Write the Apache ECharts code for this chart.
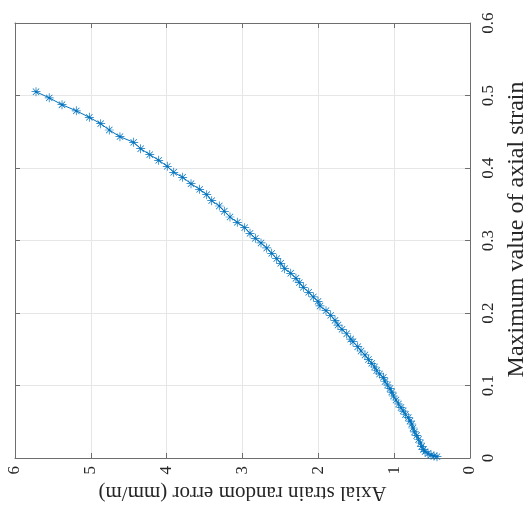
<!DOCTYPE html>
<html>
<head>
<meta charset="utf-8">
<script src="https://cdn.jsdelivr.net/npm/echarts@6/dist/echarts.min.js"></script>
<style>html,body{margin:0;padding:0;background:#fff;}#c{width:526px;height:507px;}</style>
</head>
<body>
<div id="c"></div>
<script>
// Axial strain random error (mm/m)
var randomError = [5.723,5.549,5.380,5.192,5.020,4.870,4.757,4.616,4.435,4.343,4.223,4.105,3.992,3.907,3.789,3.679,3.565,3.472,3.406,3.306,3.240,3.165,3.069,2.971,2.901,2.831,2.756,2.681,2.615,2.549,2.496,2.444,2.364,2.295,2.251,2.198,2.127,2.066,2.004,1.978,1.899,1.837,1.780,1.741,1.688,1.626,1.573,1.543,1.481,1.437,1.385,1.339,1.296,1.259,1.230,1.193,1.143,1.121,1.088,1.055,1.033,1.009,0.976,0.943,0.910,0.880,0.851,0.814,0.791,0.769,0.752,0.732,0.703,0.679,0.653,0.637,0.613,0.593,0.554,0.514,0.475,0.435];
// Maximum value of axial strain
var maxStrain = [0.5052,0.4968,0.4873,0.4789,0.4699,0.4611,0.4524,0.4432,0.4354,0.4266,0.4185,0.4106,0.4023,0.3941,0.3872,0.3783,0.3706,0.3632,0.3549,0.3476,0.3403,0.3324,0.3251,0.3177,0.3099,0.3030,0.2966,0.2897,0.2823,0.2749,0.2686,0.2611,0.2548,0.2479,0.2418,0.2354,0.2286,0.2221,0.2161,0.2097,0.2032,0.1968,0.1899,0.1834,0.1775,0.1714,0.1641,0.1604,0.1535,0.1476,0.1421,0.1359,0.1306,0.1255,0.1207,0.1159,0.1113,0.1055,0.1007,0.0959,0.0910,0.0855,0.0800,0.0745,0.0697,0.0648,0.0600,0.0559,0.0510,0.0469,0.0414,0.0359,0.0310,0.0255,0.0207,0.0159,0.0117,0.0087,0.0062,0.0041,0.0028,0.0018];
var errorTicks = [0,1,2,3,4,5,6];
var strainTicks = [0,0.1,0.2,0.3,0.4,0.5,0.6];
var xName = 'Axial strain random error (mm/m)';
var yName = 'Maximum value of axial strain';

var pts = randomError.map(function(e,i){return [e, maxStrain[i]];});
var font = '"Liberation Serif", "DejaVu Serif", serif';
var axisCol = '#6e6e6e';
var star = 'path://M-0.4,-5L0.4,-5L0.4,5L-0.4,5Z M-5,-0.4L5,-0.4L5,0.4L-5,0.4Z M-3.8,-3.24L-3.24,-3.8L3.8,3.24L3.24,3.8Z M3.24,-3.8L3.8,-3.24L-3.24,3.8L-3.8,3.24Z';

var chart = echarts.init(document.getElementById('c'), null, {renderer:'canvas'});
chart.setOption({
  animation:false,
  backgroundColor:'#fff',
  grid:{left:15, right:56, top:23, bottom:49, containLabel:false, outerBoundsMode:'none'},
  xAxis:[{
    type:'value', inverse:true, min:errorTicks[0], max:errorTicks[errorTicks.length-1], interval:1,
    position:'bottom',
    name:xName, nameLocation:'middle', nameGap:19, nameRotate:180,
    nameTextStyle:{fontFamily:font, fontSize:21, color:'#262626'},
    axisLine:{show:true, onZero:false, lineStyle:{color:axisCol, width:1}},
    axisTick:{show:true, inside:true, length:5, lineStyle:{color:axisCol}},
    axisLabel:{rotate:90, margin:8, fontFamily:font, fontSize:17, color:'#262626'},
    splitLine:{show:true, lineStyle:{color:'#e6e6e6', width:1}}
  },{
    type:'value', inverse:true, min:0, max:6, interval:1, position:'top',
    axisLine:{show:true, onZero:false, lineStyle:{color:axisCol, width:1}},
    axisTick:{show:true, inside:true, length:5, lineStyle:{color:axisCol}},
    axisLabel:{show:false}, splitLine:{show:false}
  }],
  yAxis:[{
    type:'value', min:strainTicks[0], max:strainTicks[strainTicks.length-1], interval:0.1,
    position:'right',
    name:yName, nameLocation:'middle', nameGap:31, nameRotate:90,
    nameTextStyle:{fontFamily:font, fontSize:24, color:'#262626', padding:[0,0,0,22]},
    axisLine:{show:true, onZero:false, lineStyle:{color:axisCol, width:1}},
    axisTick:{show:true, inside:true, length:5, lineStyle:{color:axisCol}},
    axisLabel:{rotate:90, margin:10, fontFamily:font, fontSize:17, color:'#262626',
      formatter:function(v){return (Math.round(v*10)/10).toString();}},
    splitLine:{show:true, lineStyle:{color:'#e6e6e6', width:1}}
  },{
    type:'value', min:0, max:0.6, interval:0.1, position:'left',
    axisLine:{show:true, onZero:false, lineStyle:{color:axisCol, width:1}},
    axisTick:{show:true, inside:true, length:5, lineStyle:{color:axisCol}},
    axisLabel:{show:false}, splitLine:{show:false}
  }],
  series:[{
    type:'line', xAxisIndex:0, yAxisIndex:0,
    data:pts,
    symbol:star, symbolSize:9,
    itemStyle:{color:'#0072BD'},
    lineStyle:{color:'#0072BD', width:1},
    showAllSymbol:true
  }]
});
</script>
</body>
</html>
